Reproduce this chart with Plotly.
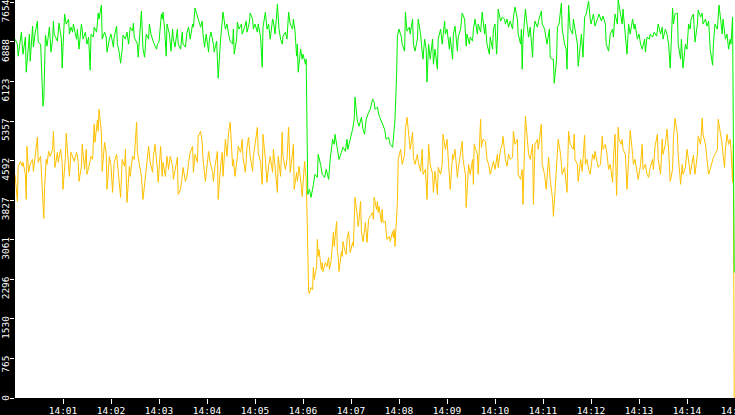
"""Two noisy traces (green / amber) over 14:00-14:15 on a black frame."""

import pandas as pd
import plotly.graph_objects as go

# seconds after 14:00:00 and values
GREEN_SEC = [
    0, 3, 4, 5, 8, 9, 10, 13, 14, 17, 18, 19,
    22, 23, 25, 28, 29, 32, 34, 35, 36, 37, 38, 40,
    42, 43, 45, 47, 48, 49, 53, 54, 55, 58, 59, 60,
    62, 64, 67, 68, 70, 72, 73, 75, 77, 78, 80, 83,
    84, 85, 88, 90, 92, 94, 95, 98, 99, 102, 104, 105,
    108, 109, 112, 114, 115, 118, 120, 123, 124, 127, 128, 130,
    132, 134, 135, 138, 140, 142, 144, 147, 148, 149, 153, 154,
    158, 160, 162, 164, 167, 168, 170, 173, 174, 177, 178, 180,
    183, 184, 185, 187, 189, 190, 193, 195, 197, 198, 200, 203,
    204, 207, 209, 210, 213, 215, 217, 219, 222, 223, 225, 228,
    229, 232, 234, 235, 237, 239, 242, 243, 245, 248, 249, 252,
    253, 254, 257, 259, 260, 263, 265, 267, 269, 272, 273, 274,
    277, 278, 280, 283, 284, 287, 289, 290, 293, 294, 297, 298,
    300, 303, 304, 307, 309, 310, 313, 315, 317, 319, 322, 323,
    325, 327, 328, 330, 332, 334, 335, 338, 340, 342, 344, 347,
    348, 350, 352, 353, 354, 357, 359, 360, 363, 364, 366, 368,
    370, 373, 375, 378, 379, 382, 384, 387, 389, 392, 394, 397,
    399, 400, 403, 405, 408, 410, 413, 415, 416, 419, 422, 424,
    425, 428, 430, 433, 435, 437, 439, 442, 444, 447, 449, 450,
    453, 455, 457, 459, 462, 464, 467, 469, 472, 474, 475, 477,
    478, 480, 483, 484, 487, 488, 490, 493, 494, 497, 498, 500,
    503, 504, 507, 508, 510, 512, 514, 515, 517, 519, 522, 523,
    525, 528, 529, 532, 534, 537, 538, 540, 543, 544, 547, 548,
    550, 553, 554, 557, 559, 562, 564, 565, 568, 569, 572, 573,
    575, 578, 579, 582, 584, 587, 588, 590, 593, 594, 597, 598,
    600, 602, 603, 604, 607, 609, 612, 613, 615, 617, 619, 622,
    623, 625, 628, 629, 632, 633, 634, 635, 638, 640, 642, 644,
    647, 648, 650, 653, 655, 658, 659, 662, 663, 665, 668, 669,
    671, 673, 674, 677, 678, 680, 683, 684, 687, 689, 690, 692,
    694, 697, 698, 700, 703, 704, 707, 708, 710, 712, 714, 717,
    719, 720, 723, 725, 728, 730, 733, 735, 738, 739, 742, 744,
    747, 748, 750, 753, 754, 757, 759, 760, 762, 765, 767, 769,
    772, 774, 775, 778, 780, 782, 784, 787, 788, 790, 793, 794,
    797, 799, 802, 804, 807, 809, 810, 813, 815, 817, 819, 822,
    823, 825, 828, 829, 832, 833, 835, 838, 840, 842, 844, 845,
    848, 850, 853, 854, 857, 859, 860, 863, 865, 867, 869, 872,
    873, 875, 878, 880, 882, 884, 885, 888, 890, 892, 894, 895,
    897, 899,
]
GREEN_VAL = [
    6943, 6846, 6613, 6749, 7078, 6846, 6652, 6982, 6303, 6846, 7040, 6516,
    7195, 6788, 7040, 7292, 6885, 6846, 6206, 5644, 5780, 6458, 7020, 6807,
    7137, 7175, 6691, 6943, 7292, 7040, 6904, 7078, 7253, 6943, 6381, 6788,
    7427, 7234, 7330, 7040, 7175, 7078, 7234, 7078, 6943, 7137, 6749, 7234,
    7137, 6943, 7078, 6846, 6982, 6342, 7040, 6982, 7175, 7078, 7447, 7330,
    7602, 6943, 7078, 6982, 6691, 6943, 7040, 6788, 6982, 7195, 6846, 6710,
    6478, 6749, 7020, 6943, 7078, 6846, 7175, 7098, 7253, 6982, 6846, 6594,
    7485, 6749, 6594, 7040, 6943, 7234, 7040, 6885, 6846, 6749, 6846, 6885,
    7427, 7330, 7466, 7137, 6613, 7234, 7040, 6710, 7137, 6943, 6788, 7137,
    6846, 6749, 7078, 6846, 6788, 7078, 7175, 6943, 7234, 7175, 7544, 7389,
    7330, 7175, 7292, 7040, 6788, 7040, 6691, 6943, 7078, 6846, 6691, 6904,
    6555, 6187, 6943, 7330, 7466, 7137, 7234, 7040, 6904, 6846, 7137, 6652,
    6943, 7272, 7137, 7234, 7040, 7175, 7292, 7078, 7272, 7447, 7330, 7137,
    7234, 7078, 7234, 6982, 6400, 7175, 7466, 7137, 7234, 6943, 7330, 7292,
    7040, 7389, 7621, 7137, 6943, 6846, 7001, 7078, 6943, 7466, 7234, 7137,
    7330, 7098, 6613, 6846, 6303, 6749, 6555, 6652, 6458, 6555, 3939, 4036,
    3881, 4133, 4327, 4268, 4714, 4520, 4327, 4268, 4423, 4230, 4617, 5005,
    4908, 5102, 4811, 4617, 4753, 4850, 4772, 5005, 4811, 5005, 5199, 5392,
    5819, 5354, 5257, 5431, 5199, 5102, 5392, 5528, 5586, 5780, 5722, 5586,
    5625, 5470, 5392, 5296, 5199, 5005, 5044, 4908, 4850, 5199, 5392, 6265,
    7001, 7137, 6982, 6846, 6710, 7466, 7098, 7175, 7040, 7330, 6846, 6710,
    6943, 7330, 7040, 6846, 6555, 6943, 6749, 6110, 6846, 6555, 6943, 6458,
    6749, 6361, 6943, 7137, 6846, 7292, 7040, 7137, 6749, 6982, 6555, 7040,
    7195, 6710, 6982, 7137, 7447, 7330, 6807, 7040, 6846, 6982, 6904, 7137,
    7330, 7040, 7234, 7078, 7466, 7040, 7234, 6846, 6652, 6982, 6749, 7137,
    7234, 6652, 6943, 7524, 7292, 7369, 7330, 7234, 7330, 7175, 7292, 7137,
    7369, 7563, 7330, 7040, 6846, 7137, 6361, 6943, 7524, 7234, 6982, 7175,
    6594, 7040, 7292, 7175, 7330, 7485, 7234, 7137, 7040, 6846, 7137, 6594,
    6555, 6555, 6090, 6555, 7175, 7234, 7640, 7137, 6846, 6749, 6361, 7602,
    7137, 7040, 7330, 7137, 6846, 6420, 6943, 7040, 6594, 7369, 7427, 7679,
    7330, 7234, 7427, 7195, 7330, 7427, 7292, 7389, 7234, 6846, 6710, 7040,
    7137, 6982, 7427, 7234, 7700, 7427, 7234, 7524, 7137, 6652, 7234, 7040,
    7330, 7137, 7234, 6943, 7040, 6846, 6749, 6943, 6691, 6982, 6943, 7040,
    6982, 7078, 7001, 7234, 7040, 7175, 6943, 7137, 7040, 6846, 6381, 7544,
    7234, 7427, 7447, 6846, 6555, 6943, 6381, 6846, 6749, 7234, 7137, 7330,
    7427, 6885, 7234, 7505, 7369, 7447, 7234, 7330, 7195, 7292, 6749, 6439,
    6846, 7234, 7137, 7602, 7330, 7040, 7330, 6943, 7040, 6749, 6943, 6846,
    7369, 2428,
]

AMBER_SEC = [
    0, 2, 3, 4, 7, 9, 10, 13, 14, 15, 17, 19,
    22, 23, 25, 28, 29, 32, 34, 35, 36, 37, 39, 40,
    42, 44, 47, 48, 49, 50, 53, 54, 57, 59, 60, 63,
    64, 67, 68, 70, 72, 74, 77, 79, 80, 83, 84, 87,
    89, 90, 93, 95, 97, 99, 100, 103, 104, 105, 108, 109,
    112, 114, 115, 118, 120, 122, 124, 127, 129, 132, 134, 137,
    138, 140, 143, 144, 147, 149, 152, 153, 155, 158, 160, 163,
    165, 167, 169, 172, 173, 175, 178, 179, 182, 184, 185, 188,
    190, 192, 194, 197, 198, 200, 203, 204, 207, 209, 210, 213,
    215, 217, 219, 222, 223, 225, 228, 229, 232, 234, 235, 238,
    240, 242, 244, 247, 248, 250, 253, 254, 257, 259, 260, 263,
    265, 267, 269, 272, 273, 275, 278, 279, 282, 284, 285, 288,
    290, 292, 294, 297, 298, 300, 303, 304, 307, 309, 310, 313,
    315, 317, 319, 322, 323, 325, 328, 329, 332, 334, 335, 338,
    340, 342, 344, 347, 348, 349, 352, 353, 355, 358, 359, 362,
    364, 365, 367, 368, 370, 372, 373, 374, 377, 378, 379, 380,
    383, 384, 385, 388, 390, 392, 393, 395, 397, 398, 399, 400,
    402, 403, 404, 405, 408, 409, 410, 412, 414, 415, 417, 419,
    422, 423, 424, 425, 428, 429, 430, 432, 433, 435, 437, 438,
    440, 442, 444, 447, 448, 449, 452, 453, 454, 455, 458, 459,
    460, 463, 464, 465, 468, 469, 472, 473, 474, 475, 478, 479,
    482, 484, 487, 488, 490, 493, 494, 497, 498, 500, 503, 504,
    507, 509, 510, 513, 515, 517, 519, 522, 523, 525, 528, 529,
    532, 534, 535, 538, 540, 542, 544, 547, 548, 550, 553, 554,
    557, 559, 560, 563, 564, 567, 569, 572, 573, 574, 578, 579,
    582, 583, 585, 588, 590, 592, 594, 597, 598, 600, 603, 604,
    607, 609, 610, 613, 615, 617, 619, 622, 623, 625, 628, 629,
    632, 634, 635, 638, 640, 642, 644, 647, 648, 650, 653, 654,
    658, 659, 662, 664, 667, 669, 672, 673, 674, 678, 679, 682,
    684, 687, 688, 690, 692, 694, 698, 699, 700, 703, 704, 707,
    709, 712, 713, 715, 717, 719, 722, 724, 725, 728, 729, 732,
    734, 735, 738, 740, 742, 744, 747, 748, 750, 752, 754, 755,
    758, 759, 760, 763, 765, 767, 769, 772, 773, 775, 778, 779,
    782, 784, 785, 788, 790, 792, 794, 797, 798, 800, 803, 804,
    807, 809, 810, 813, 815, 817, 819, 822, 823, 825, 828, 829,
    832, 834, 835, 838, 840, 842, 843, 844, 847, 848, 850, 853,
    854, 857, 859, 860, 863, 865, 867, 869, 872, 873, 875, 878,
    879, 882, 884, 885, 887, 888, 890, 892, 894, 895, 897, 898,
    899,
]
AMBER_VAL = [
    4327, 4036, 3803, 4482, 4578, 4482, 4559, 4327, 3842, 4869, 4365, 4520,
    4617, 4385, 4675, 5044, 4559, 4675, 4075, 3687, 3474, 4094, 4617, 4520,
    4772, 4675, 4811, 5160, 4578, 4462, 4753, 4559, 4811, 4559, 4036, 4656,
    5121, 4559, 4288, 4753, 4656, 4578, 4753, 4578, 4191, 4482, 4908, 4423,
    4811, 4327, 4520, 4675, 4617, 5296, 4947, 5373, 5160, 5586, 5140, 4385,
    4947, 4753, 4036, 4675, 4482, 3978, 4559, 4714, 4385, 3881, 4617, 4482,
    4811, 3784, 4482, 4288, 4675, 4617, 5334, 4753, 4559, 4288, 3842, 4288,
    4675, 4869, 4559, 4365, 4675, 4908, 4423, 4172, 4869, 4288, 4559, 4288,
    4675, 4423, 4675, 4482, 4230, 4423, 4656, 3939, 4036, 4288, 4462, 4191,
    4288, 4559, 4753, 4869, 4365, 4714, 4559, 5063, 5160, 4947, 4617, 4191,
    4482, 4772, 4559, 4365, 4191, 4482, 4772, 3842, 4482, 4753, 4288, 5005,
    4675, 5140, 5334, 4482, 4617, 4288, 4675, 4869, 4753, 5005, 4656, 4365,
    4850, 5044, 4675, 4385, 4675, 4869, 5237, 4753, 4559, 4133, 5102, 4617,
    4172, 4482, 4675, 4365, 4811, 4482, 3978, 4675, 4288, 5140, 4675, 4423,
    4617, 5237, 4365, 4753, 4908, 4036, 4365, 4191, 4482, 4094, 3900, 4578,
    4230, 3600, 2059, 2020, 2137, 2098, 2525, 2292, 2544, 3067, 2737, 2873,
    2486, 2621, 2447, 2621, 2544, 2718, 2486, 2641, 2932, 3203, 2932, 3125,
    3416, 2834, 2718, 2447, 2834, 2737, 3028, 2873, 2777, 3067, 3222, 2815,
    3009, 2932, 3397, 3881, 3513, 3319, 3455, 3803, 3222, 3028, 3261, 3397,
    3009, 3455, 3513, 3590, 3455, 3881, 3648, 3803, 3590, 3706, 3397, 3648,
    3397, 3416, 3203, 3067, 3125, 3028, 3222, 3106, 3261, 2932, 3784, 4617,
    4811, 4520, 4714, 5199, 5431, 4908, 4811, 5140, 4656, 4520, 4714, 4578,
    4385, 4811, 4327, 4423, 3842, 4908, 4520, 4327, 3978, 4385, 3939, 4462,
    4327, 4520, 5102, 4811, 5005, 4520, 4036, 4714, 4617, 4811, 4268, 4423,
    4714, 4966, 4617, 4327, 3687, 4520, 4327, 4617, 4133, 4908, 4714, 4327,
    5392, 4850, 5005, 4966, 4617, 4520, 4327, 4520, 4578, 4423, 4714, 4462,
    4811, 4908, 5063, 4617, 4482, 4714, 4617, 4656, 5160, 4908, 5005, 4327,
    4230, 4423, 3745, 5451, 5005, 4714, 4617, 4908, 3745, 4908, 5005, 4811,
    5296, 4520, 4327, 4036, 4656, 4230, 3842, 3513, 3745, 4714, 5005, 4714,
    4327, 4462, 4268, 3978, 5160, 4908, 4811, 5102, 4617, 4520, 4191, 4617,
    4385, 5082, 4520, 4617, 4423, 4327, 4714, 4617, 4772, 4578, 4462, 4520,
    5063, 4811, 4908, 4714, 4423, 4520, 4172, 4617, 5102, 3920, 5237, 5005,
    4908, 5005, 4811, 4714, 4036, 4617, 5179, 4714, 4520, 4617, 4327, 4230,
    4520, 4908, 4423, 4520, 4327, 4268, 4462, 4617, 4423, 4869, 5102, 4617,
    4327, 5005, 4714, 4908, 5199, 4811, 4191, 4423, 5005, 5412, 5102, 4714,
    4133, 4520, 4327, 4462, 4811, 4617, 4482, 4327, 4617, 4700, 4327, 4714,
    5063, 4908, 5412, 5102, 4908, 4617, 4327, 4423, 4617, 4656, 4714, 4811,
    5392, 5102, 4908, 4714, 4462, 4811, 5102, 4908, 5005, 4811, 4172, 4908,
    0,
]

Y_TICKS = [0, 765, 1530, 2296, 3061, 3827, 4592, 5357, 6123, 6888, 7654]
X_LABELS = ["14:01", "14:02", "14:03", "14:04", "14:05", "14:06", "14:07", "14:08",
            "14:09", "14:10", "14:11", "14:12", "14:13", "14:14", "14:15"]

t0 = pd.Timestamp("2024-01-01 14:00:00")
green_t = t0 + pd.to_timedelta(GREEN_SEC, unit="s")
amber_t = t0 + pd.to_timedelta(AMBER_SEC, unit="s")
tick_t = [pd.Timestamp("2024-01-01 " + s) for s in X_LABELS]

# labels hang below their tick in the original: pad to 4 chars (monospace)
# so every label's top end lines up, then shift them all down a bit
y_text = [str(v).rjust(4, "\u00a0") for v in Y_TICKS]

fig = go.Figure()

# amber first so green sits on top where they meet
fig.add_trace(go.Scatter(x=amber_t, y=AMBER_VAL, mode="lines",
                         line=dict(color="#ffc000", width=1), hoverinfo="skip"))
fig.add_trace(go.Scatter(x=green_t, y=GREEN_VAL, mode="lines",
                         line=dict(color="#00f000", width=1), hoverinfo="skip"))

fig.update_layout(
    width=735,
    height=415,
    margin=dict(l=15, r=0, t=0, b=17, pad=0),
    paper_bgcolor="black",
    plot_bgcolor="white",
    showlegend=False,
    font=dict(family="DejaVu Sans Mono", size=9.5, color="white"),
)

fig.update_xaxes(
    type="date",
    range=[t0, t0 + pd.Timedelta(seconds=900)],
    tickvals=tick_t,
    ticktext=X_LABELS,
    ticks="outside",
    ticklen=5,
    ticklabelstandoff=-1,
    tickcolor="white",
    tickwidth=1,
    showgrid=False,
    zeroline=False,
    showline=False,
    automargin=False,
    ticklabeloverflow="allow",
)
fig.update_yaxes(
    range=[0, 7700],
    tickvals=Y_TICKS,
    ticktext=y_text,
    tickangle=-90,
    ticklabelshift=10,
    ticklabelstandoff=-3,
    ticks="outside",
    ticklen=4,
    tickcolor="white",
    tickwidth=1,
    showgrid=False,
    zeroline=False,
    showline=False,
    automargin=False,
    ticklabeloverflow="allow",
)

fig.write_html(
    "out.html",
    config={"displayModeBar": False, "staticPlot": True},
    post_script="document.body.style.margin='0';document.body.style.overflow='hidden';",
)
